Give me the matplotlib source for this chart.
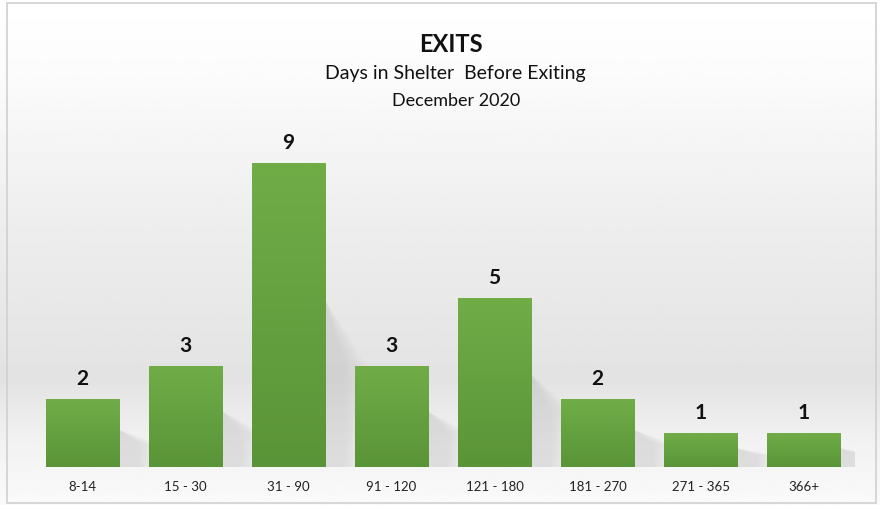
import matplotlib
matplotlib.use("Agg")
import matplotlib.pyplot as plt
import matplotlib.patches as mpatches
import numpy as np

# data
ranges = ['8-14', '15 - 30', '31 - 90', '91 - 120', '121 - 180', '181 - 270', '271 - 365', '366+']
exits = [2, 3, 9, 3, 5, 2, 1, 1]

plt.rcParams['font.family'] = ['Lato', 'DejaVu Sans']

fig = plt.figure(figsize=(8.8, 5.05), dpi=100)

# background: white at top, soft grey lower down, lighter again at the very bottom
bg = fig.add_axes([0, 0, 1, 1], zorder=-10)
yy = np.linspace(0, 1, 300)
shade = np.interp(yy, [0, 0.12, 0.25, 0.55, 0.85, 1.0], [0.98, 0.95, 0.89, 0.93, 0.985, 1.0])
img = np.repeat(shade[:, None], 2, axis=1)
bg.imshow(img, cmap='gray', vmin=0, vmax=1, aspect='auto', extent=[0, 1, 0, 1], origin='lower')
bg.add_patch(mpatches.Rectangle((0.008, 0.004), 0.988, 0.99, fill=False,
                                edgecolor='#d0d0d0', linewidth=1.2, transform=bg.transAxes))
bg.set_xlim(0, 1)
bg.set_ylim(0, 1)
bg.axis('off')

ax = fig.add_axes([0.0352, 0.0752, 0.9364, 0.669])
ax.set_facecolor('none')
x = np.arange(len(ranges))
width = 0.71

# soft shadow behind each bar
for xi, v in zip(x, exits):
    for k in range(8):
        sh = mpatches.Polygon([(xi + width / 2, 0), (xi + width / 2, v * 0.55),
                               (xi + width / 2 + 0.2 + 0.03 * k, v * 0.33), (xi + width / 2 + 0.2 + 0.03 * k, 0)],
                              closed=True, facecolor='#a0a0a0', alpha=0.03, edgecolor='none', zorder=1)
        ax.add_patch(sh)

bars = ax.bar(x, exits, width=width, color='#66a444', zorder=2)

# vertical gradient on every bar
grad = np.linspace(0, 1, 100)[:, None]
top = np.array([0x70, 0xad, 0x47]) / 255
bot = np.array([0x5a, 0x94, 0x38]) / 255
cols = bot + (top - bot) * grad[..., None] * np.ones((1, 2, 1))
for b in bars:
    bx, by = b.get_x(), b.get_y()
    im = ax.imshow(cols, extent=[bx, bx + b.get_width(), by, by + b.get_height()],
                   aspect='auto', origin='lower', zorder=3)
    im.set_clip_path(b)

for xi, v in zip(x, exits):
    ax.text(xi, v + 0.3, str(v), ha='center', va='bottom', fontsize=15,
            fontweight='bold', color='#111111', zorder=4)

ax.set_xlim(-0.5, len(ranges) - 0.5)
ax.set_ylim(0, 10)
ax.set_xticks(x)
ax.set_xticklabels(ranges, fontsize=9.5, color='#222222')
ax.tick_params(axis='x', length=0, pad=10)
ax.set_yticks([])
for s in ax.spines.values():
    s.set_visible(False)

fig.text(451 / 880, 1 - 45 / 505, 'EXITS', ha='center', va='center', fontsize=17,
         fontweight='bold', color='#111111')
fig.text(455 / 880, 1 - 74 / 505, 'Days in Shelter  Before Exiting', ha='center', va='center',
         fontsize=14, color='#111111')
fig.text(456 / 880, 1 - 101 / 505, 'December 2020', ha='center', va='center',
         fontsize=13, color='#111111')

fig.savefig('out.png', dpi=100)
